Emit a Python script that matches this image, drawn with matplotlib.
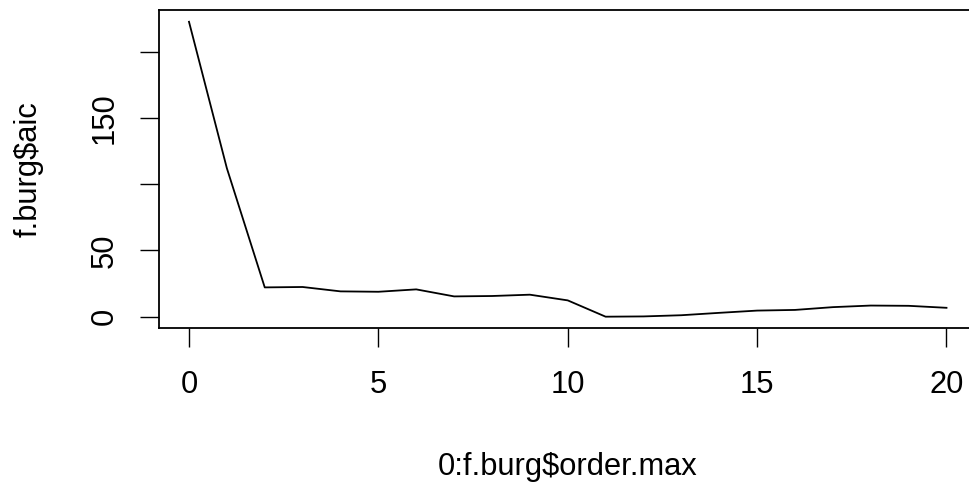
import numpy as np
import matplotlib.pyplot as plt
import matplotlib
matplotlib.rcParams['font.family'] = ['Liberation Sans', 'DejaVu Sans']

# AIC po redu modela (Burg), relativno prema minimumu
order = np.arange(0, 21)
aic = [222.5, 112.0, 22.1, 22.4, 19.1, 18.8, 20.6, 15.3, 15.6, 16.6, 12.3,
       0.0, 0.2, 1.1, 2.9, 4.6, 5.1, 7.2, 8.4, 8.2, 6.7]

xticks = [0, 5, 10, 15, 20]
yticks = [0, 50, 100, 150, 200]
ylabels = ['0', '50', '', '150', '']

fs = 22.2

fig = plt.figure(figsize=(9.7, 4.82), dpi=100)
ax = fig.add_axes([0.1636, 0.3185, 0.8434, 0.6608])
ax.plot(order, aic, color='black', lw=1.3)

# rasponi kao u R-u (prosirenje 4%)
xr = max(order) - min(order)
yr = max(aic) - min(aic)
ax.set_xlim(min(order) - 0.04 * xr, max(order) + 0.04 * xr)
ax.set_ylim(min(aic) - 0.04 * yr, max(aic) + 0.04 * yr)

ax.set_xticks(xticks)
ax.set_xticklabels([str(t) for t in xticks])
ax.set_yticks(yticks)
ax.set_yticklabels(ylabels, rotation=90, va='center')
ax.tick_params(length=13.5, width=1.0, labelsize=fs)
ax.tick_params(axis='x', pad=16.5)
ax.tick_params(axis='y', pad=14.3)
for s in ax.spines.values():
    s.set_linewidth(1.3)

ax.set_xlabel('0:f.burg$order.max', fontsize=fs, va='baseline')
ax.set_ylabel('f.burg$aic', fontsize=fs, va='baseline')
ax.xaxis.set_label_coords(0.5, -0.46)
ax.yaxis.set_label_coords(-0.1491, 0.5)

fig.savefig('out.png', dpi=100)
